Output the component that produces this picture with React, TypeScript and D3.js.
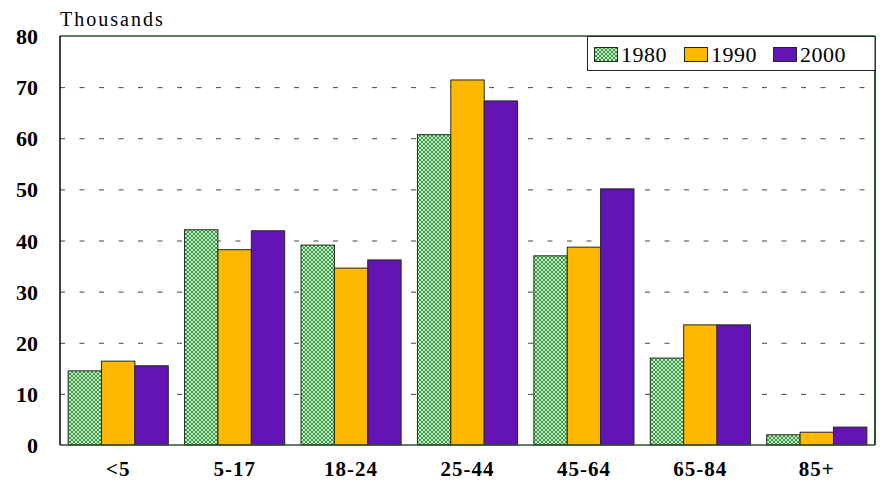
import React, {useEffect, useRef} from 'react'
import * as d3 from 'd3'

const ageGroups = ['<5', '5-17', '18-24', '25-44', '45-64', '65-84', '85+'];
const years = ['1980', '1990', '2000'];
const pop1980 = [14.5, 42.1, 39.1, 60.7, 37.0, 17.0, 2.0];
const pop1990 = [16.4, 38.2, 34.6, 71.4, 38.7, 23.5, 2.5];
const pop2000 = [15.5, 41.9, 36.2, 67.3, 50.1, 23.5, 3.5];
const yTicks = [0, 10, 20, 30, 40, 50, 60, 70, 80];

const series = [pop1980, pop1990, pop2000];
const fills = ['url(#hatch)', '#ffb800', '#6414b4'];
const serif = 'Liberation Serif';

const W = 880, H = 481;
const M = {left: 60, right: 5, top: 36, bottom: 36};

export default function App() {
  const ref = useRef<SVGSVGElement>(null);

  useEffect(() => {
    const svg = d3.select(ref.current);
    svg.selectAll('*').remove();

    const defs = svg.append('defs');
    const pat = defs.append('pattern')
      .attr('id', 'hatch')
      .attr('patternUnits', 'userSpaceOnUse')
      .attr('width', 4).attr('height', 4);
    pat.append('rect').attr('width', 4).attr('height', 4).attr('fill', '#c0f0c0');
    pat.append('path')
      .attr('d', 'M0,0L4,4M4,0L0,4')
      .attr('stroke', '#2f8a3a').attr('stroke-width', 0.9);

    const x = d3.scaleBand().domain(ageGroups).range([M.left, W - M.right]).paddingInner(0.14).paddingOuter(0.07);
    const xs = d3.scaleBand().domain(years).range([0, x.bandwidth()]);
    const y = d3.scaleLinear().domain([0, 80]).range([H - M.bottom, M.top]);

    // gridlines
    svg.append('g').selectAll('line')
      .data(yTicks.filter(t => t > 0 && t < 80))
      .enter().append('line')
      .attr('x1', M.left).attr('x2', W - M.right)
      .attr('y1', d => y(d) + 0.5).attr('y2', d => y(d) + 0.5)
      .attr('stroke', '#444').attr('stroke-dasharray', '5,14.5');

    // bars
    series.forEach((vals, si) => {
      svg.append('g').selectAll('rect')
        .data(vals)
        .enter().append('rect')
        .attr('x', (d, i) => x(ageGroups[i])! + xs(years[si])!)
        .attr('y', d => y(d))
        .attr('width', xs.bandwidth())
        .attr('height', d => y(0) - y(d))
        .attr('fill', fills[si])
        .attr('stroke', '#1e2a1e').attr('stroke-width', 1);
    });

    // frame
    svg.append('line').attr('x1', M.left).attr('x2', W - M.right).attr('y1', M.top).attr('y2', M.top)
      .attr('stroke', '#2f4f2f').attr('stroke-width', 1.5);
    svg.append('line').attr('x1', W - M.right).attr('x2', W - M.right).attr('y1', M.top).attr('y2', y(0))
      .attr('stroke', '#2f4f2f').attr('stroke-width', 2);
    svg.append('line').attr('x1', M.left).attr('x2', W - M.right).attr('y1', y(0)).attr('y2', y(0))
      .attr('stroke', '#2f4f2f').attr('stroke-width', 1.5);
    svg.append('line').attr('x1', M.left).attr('x2', M.left).attr('y1', M.top).attr('y2', y(0))
      .attr('stroke', '#000').attr('stroke-width', 1.5);

    // y labels
    svg.append('g').selectAll('text')
      .data(yTicks)
      .enter().append('text')
      .attr('x', 38).attr('y', d => y(d) + 8)
      .attr('text-anchor', 'end')
      .attr('font-family', serif).attr('font-weight', 'bold').attr('font-size', 22)
      .text(d => d);

    // x labels
    svg.append('g').selectAll('text')
      .data(ageGroups)
      .enter().append('text')
      .attr('x', d => x(d)! + x.bandwidth() / 2)
      .attr('y', 476)
      .attr('text-anchor', 'middle')
      .attr('font-family', serif).attr('font-weight', 'bold').attr('font-size', 21)
      .attr('letter-spacing', 1)
      .text(d => d);

    svg.append('text')
      .attr('x', 60).attr('y', 26)
      .attr('font-family', serif).attr('font-size', 20)
      .attr('letter-spacing', 2)
      .text('Thousands');

    // legend
    const lg = svg.append('g');
    lg.append('rect').attr('x', 587.5).attr('y', 36.5).attr('width', W - M.right - 587.5).attr('height', 34)
      .attr('fill', '#fff').attr('stroke', '#1e2a1e');
    const lx = [594, 684, 773];
    years.forEach((yr, i) => {
      lg.append('rect').attr('x', lx[i] + 0.5).attr('y', 47.5).attr('width', 23).attr('height', 14)
        .attr('fill', fills[i]).attr('stroke', '#1e2a1e');
      lg.append('text').attr('x', lx[i] + 27).attr('y', 62)
        .attr('font-family', serif).attr('font-size', 22)
        .attr('letter-spacing', 0.5)
        .text(yr);
    });
  }, []);

  return (
    <svg ref={ref} width={W} height={H} style={{position: 'absolute', left: 0, top: 0, background: '#fff'}}></svg>
  )
}
